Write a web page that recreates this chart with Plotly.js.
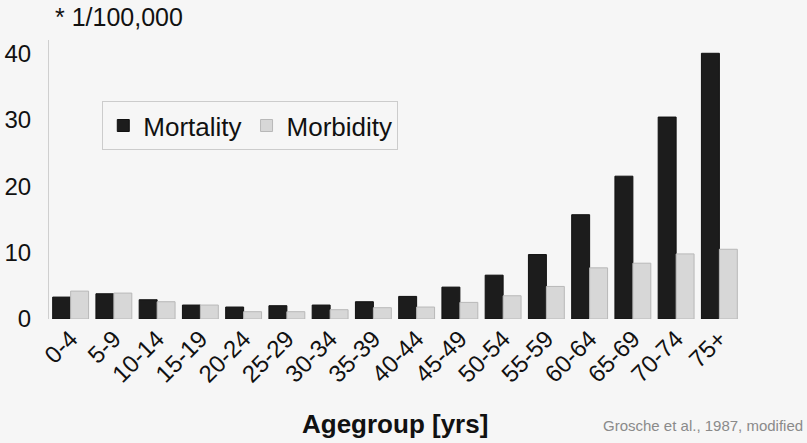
<!DOCTYPE html>
<html>
<head>
<meta charset="utf-8">
<script src="https://cdn.plot.ly/plotly-3.0.1.min.js"></script>
<style>html,body{margin:0;padding:0;background:#f6f6f6;}#chart{width:807px;height:443px;}</style>
</head>
<body>
<div id="chart"></div>
<script>
const ageGroups = ["0-4","5-9","10-14","15-19","20-24","25-29","30-34","35-39","40-44","45-49","50-54","55-59","60-64","65-69","70-74","75+"];
const mortality = [3.3,3.8,2.9,2.1,1.8,2.0,2.1,2.6,3.4,4.8,6.6,9.7,15.7,21.5,30.4,40.0];
const morbidity = [4.2,3.9,2.6,2.1,1.1,1.1,1.4,1.7,1.8,2.5,3.5,4.9,7.7,8.4,9.8,10.5];
const yTicks = [0,10,20,30,40];

const font = "Liberation Sans, Arial, Helvetica, sans-serif";
const traces = [
  {type:"bar", name:"Mortality", x:ageGroups, y:mortality,
   marker:{color:"#1c1c1c", line:{color:"#111111", width:1}}},
  {type:"bar", name:"Morbidity", x:ageGroups, y:morbidity,
   marker:{color:"#d7d7d7", line:{color:"#b8b8b8", width:1}}}
];
const layout = {
  width:807, height:443,
  paper_bgcolor:"#f6f6f6", plot_bgcolor:"#f6f6f6",
  margin:{l:49, r:66, t:40, b:124},
  barmode:"group", bargap:0.17, bargroupgap:0,
  font:{family:font, color:"#111"},
  showlegend:true,
  legend:{orientation:"h", x:0.077, y:0.781, xanchor:"left", yanchor:"top",
          bgcolor:"#f6f6f6", bordercolor:"#cccccc", borderwidth:1,
          font:{size:26, family:font, color:"#111"}},
  xaxis:{tickangle:-45, tickfont:{size:24, family:font, color:"#111"},
         showline:false, showgrid:false, zeroline:false, ticks:""},
  yaxis:{range:[0,42], tickvals:yTicks, ticktext:yTicks.map(String),
         tickfont:{size:24, family:font, color:"#111"},
         showgrid:false, zeroline:false, showline:true, linecolor:"#cfcfcf", linewidth:1,
         ticks:"outside", ticklen:12, tickcolor:"rgba(0,0,0,0)"},
  annotations:[
    {text:"* 1/100,000", xref:"paper", yref:"paper", x:0.006, y:1.082, xanchor:"left", yanchor:"middle",
     showarrow:false, font:{size:25, family:font, color:"#111"}},
    {text:"<b>Agegroup [yrs]</b>", xref:"paper", yref:"paper", x:0.5, y:-0.376, xanchor:"center", yanchor:"middle",
     showarrow:false, font:{size:26, family:font, color:"#111"}},
    {text:"Grosche et al., 1987, modified", xref:"paper", yref:"paper", x:1.092, y:-0.38, xanchor:"right", yanchor:"middle",
     showarrow:false, font:{size:15, family:font, color:"#8a8a8a"}}
  ]
};
Plotly.newPlot("chart", traces, layout, {displayModeBar:false, staticPlot:true});
</script>
</body>
</html>
